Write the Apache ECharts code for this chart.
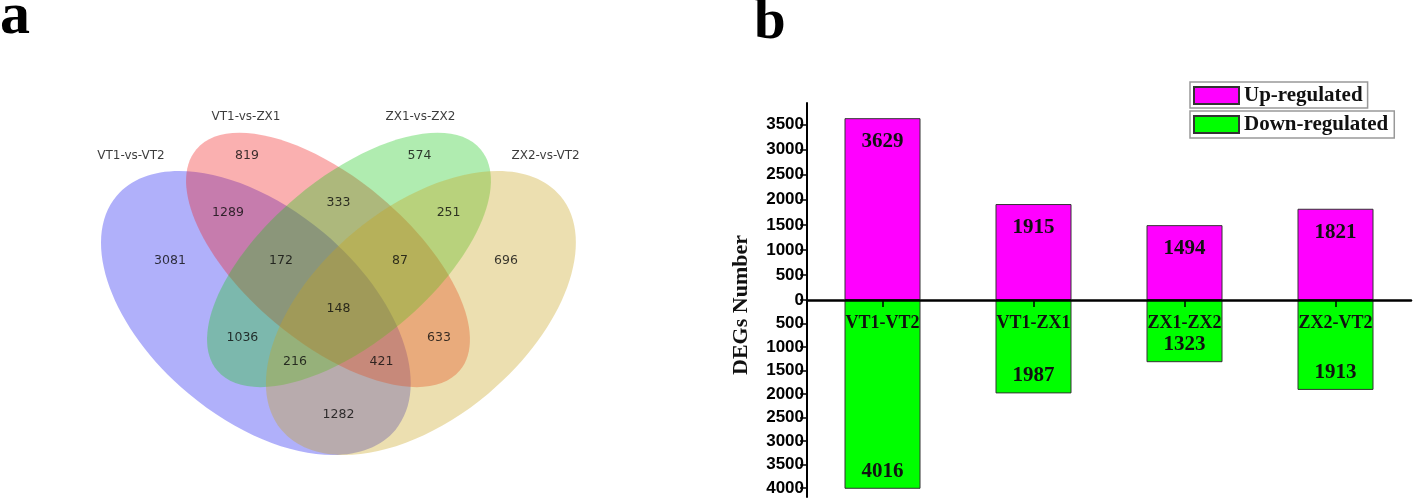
<!DOCTYPE html>
<html><head><meta charset="utf-8">
<script src="https://cdn.jsdelivr.net/npm/echarts@6/dist/echarts.min.js"></script>
<style>html,body{margin:0;padding:0;background:#fff}#c{width:1418px;height:504px}</style>
</head><body><div id="c"></div>
<script>
// ---------- Data: panel b (DEG bar chart) ----------
const categories = ['VT1-VT2', 'VT1-ZX1', 'ZX1-ZX2', 'ZX2-VT2'];
const upRegulated = [3629, 1915, 1494, 1821];
const downRegulated = [4016, 1987, 1323, 1913];
const upTicks = [0, 500, 1000, 1500, 2000, 2500, 3000, 3500];
const downTicks = [500, 1000, 1500, 2000, 2500, 3000, 3500, 4000];
const seriesNames = ['Up-regulated', 'Down-regulated'];

// ---------- Data: panel a (Venn diagram) ----------
const vennSets = ['VT1-vs-VT2', 'VT1-vs-ZX1', 'ZX1-vs-ZX2', 'ZX2-vs-VT2'];
const vennRegions = ['A', 'B', 'C', 'D', 'AB', 'BC', 'CD', 'ABC', 'BCD', 'ABCD', 'AC', 'BD', 'ACD', 'ABD', 'AD'];
const vennCounts = [3081, 819, 574, 696, 1289, 333, 251, 172, 87, 148, 1036, 633, 216, 421, 1282];

// ---------- Layout (Venn panel geometry, panel pixel space) ----------
const vennRegionPos = {
  A: [170, 261], B: [247, 156], C: [419.5, 156], D: [506, 261],
  AB: [228, 213], BC: [338.5, 203], CD: [448.6, 213],
  ABC: [281, 261], BCD: [400, 261], ABCD: [338.5, 309],
  AC: [242.4, 337.7], BD: [439, 337.7], ACD: [295, 361.7], ABD: [381.5, 361.7], AD: [338.5, 414.7]
};
const vennSetLabelPos = [[131, 155.7], [246, 117.3], [420.4, 117.3], [545.6, 155.7]];
const vennEllipses = [
  { c: [256, 313], r: [182, 105], rot: -40, fill: 'rgba(29,29,240,0.35)' },
  { c: [328, 260], r: [172, 82], rot: -40, fill: 'rgba(240,29,29,0.35)' },
  { c: [349, 260], r: [172, 82], rot: 40, fill: 'rgba(29,200,29,0.35)' },
  { c: [421, 313], r: [182, 105], rot: 40, fill: 'rgba(200,163,29,0.35)' }
];

const SERIF = '"Liberation Serif", "Times New Roman", serif';
const SANS = '"Liberation Sans", Arial, sans-serif';
const VENNFONT = '"DejaVu Sans", sans-serif';

const chart = echarts.init(document.getElementById('c'), null, { renderer: 'canvas' });

const yAxisCommon = {
  type: 'value',
  interval: 500,
  z: 5,
  splitLine: { show: false },
  axisLine: { show: true, onZero: false, lineStyle: { color: '#000', width: 2 } },
  axisTick: { show: true, inside: false, length: 7, lineStyle: { color: '#000', width: 1.5 } },
  axisLabel: { fontFamily: SANS, fontWeight: 'bold', fontSize: 17, color: '#000', margin: 3,
    formatter: v => String(v) }
};

const legendCommon = {
  orient: 'horizontal',
  icon: 'rect',
  itemWidth: 45,
  itemHeight: 17,
  borderColor: '#999',
  borderWidth: 1.5,
  borderRadius: 0,
  selectedMode: false,
  textStyle: { fontFamily: SERIF, fontWeight: 'bold', fontSize: 21, color: '#111' }
};

const option = {
  animation: false,
  backgroundColor: '#fff',
  legend: [
    Object.assign({}, legendCommon, { data: [seriesNames[0]], left: 1190, top: 82, padding: [3, 5, 2, 3] }),
    Object.assign({}, legendCommon, { data: [seriesNames[1]], left: 1190, top: 111, padding: [3, 6, 3, 3] })
  ],
  grid: [
    { left: 807, top: 103, width: 604, height: 197 },
    { left: 807, top: 300, width: 604, height: 197 },
    { left: 0, top: 0, width: 700, height: 504 }
  ],
  xAxis: [
    { type: 'category', gridIndex: 0, data: categories, show: false },
    {
      type: 'category', gridIndex: 1, data: categories, position: 'top', z: 6,
      axisLine: { show: true, onZero: false, lineStyle: { color: '#000', width: 2.5 } },
      axisTick: { show: true, inside: true, length: 7, alignWithLabel: true, lineStyle: { color: '#000', width: 1.5 } },
      axisLabel: { inside: true, margin: 14, fontFamily: SERIF, fontWeight: 'bold', fontSize: 18, color: '#111' }
    },
    { type: 'value', gridIndex: 2, min: 0, max: 700, show: false }
  ],
  yAxis: [
    Object.assign({}, yAxisCommon, {
      gridIndex: 0, min: 0, max: 3932,
      axisTick: Object.assign({}, yAxisCommon.axisTick, { customValues: upTicks }),
      axisLabel: Object.assign({}, yAxisCommon.axisLabel, { customValues: upTicks })
    }),
    Object.assign({}, yAxisCommon, {
      gridIndex: 1, min: 0, max: 4191, inverse: true,
      axisTick: Object.assign({}, yAxisCommon.axisTick, { customValues: downTicks }),
      axisLabel: Object.assign({}, yAxisCommon.axisLabel, { customValues: downTicks })
    }),
    { type: 'value', gridIndex: 2, min: 0, max: 504, inverse: true, show: false }
  ],
  graphic: [
    { type: 'text', x: 0, y: 17, style: { text: 'a', font: 'bold 60px ' + SERIF, fill: '#000', verticalAlign: 'middle' } },
    { type: 'text', x: 754, y: 23, style: { text: 'b', font: 'bold 57px ' + SERIF, fill: '#000', verticalAlign: 'middle' } },
    { type: 'text', x: 741, y: 305, rotation: Math.PI / 2,
      style: { text: 'DEGs Number', font: 'bold 22px ' + SERIF, fill: '#111', align: 'center', verticalAlign: 'middle' } }
  ],
  series: [
    {
      type: 'custom', xAxisIndex: 2, yAxisIndex: 2, silent: true, z: 1,
      data: vennEllipses.map(e => e.c),
      renderItem: function (params, api) {
        const e = vennEllipses[params.dataIndex];
        const c = api.coord(e.c);
        const s = api.size(e.r);
        return {
          type: 'ellipse', x: c[0], y: c[1], rotation: e.rot * Math.PI / 180,
          shape: { cx: 0, cy: 0, rx: s[0], ry: s[1] },
          style: { fill: e.fill }
        };
      }
    },
    {
      type: 'scatter', xAxisIndex: 2, yAxisIndex: 2, silent: true, z: 3,
      symbolSize: 1, itemStyle: { color: 'rgba(0,0,0,0)' },
      data: vennRegions.map((k, i) => [vennRegionPos[k][0], vennRegionPos[k][1], vennCounts[i]]),
      label: { show: true, position: 'inside', formatter: p => String(p.value[2]),
        fontFamily: VENNFONT, fontSize: 12.5, color: '#0a0a0a' }
    },
    {
      type: 'scatter', xAxisIndex: 2, yAxisIndex: 2, silent: true, z: 3,
      symbolSize: 1, itemStyle: { color: 'rgba(0,0,0,0)' },
      data: vennSets.map((n, i) => ({ name: n, value: vennSetLabelPos[i] })),
      label: { show: true, position: 'inside', formatter: p => p.name,
        fontFamily: VENNFONT, fontSize: 12, color: '#0a0a0a' }
    },
    {
      name: seriesNames[0], type: 'bar', xAxisIndex: 0, yAxisIndex: 0, barWidth: 76,
      data: upRegulated,
      itemStyle: { color: '#FF00FF', borderColor: '#333', borderWidth: 1 },
      label: { show: true, position: 'insideTop', distance: 13,
        fontFamily: SERIF, fontWeight: 'bold', fontSize: 21, color: '#111' }
    },
    {
      name: seriesNames[1], type: 'bar', xAxisIndex: 1, yAxisIndex: 1, barWidth: 76,
      data: downRegulated,
      itemStyle: { color: '#00FF00', borderColor: '#333', borderWidth: 1 },
      label: { show: true, position: 'insideBottom', distance: 7,
        fontFamily: SERIF, fontWeight: 'bold', fontSize: 21, color: '#111' }
    }
  ]
};
chart.setOption(option);
</script>
</body></html>
